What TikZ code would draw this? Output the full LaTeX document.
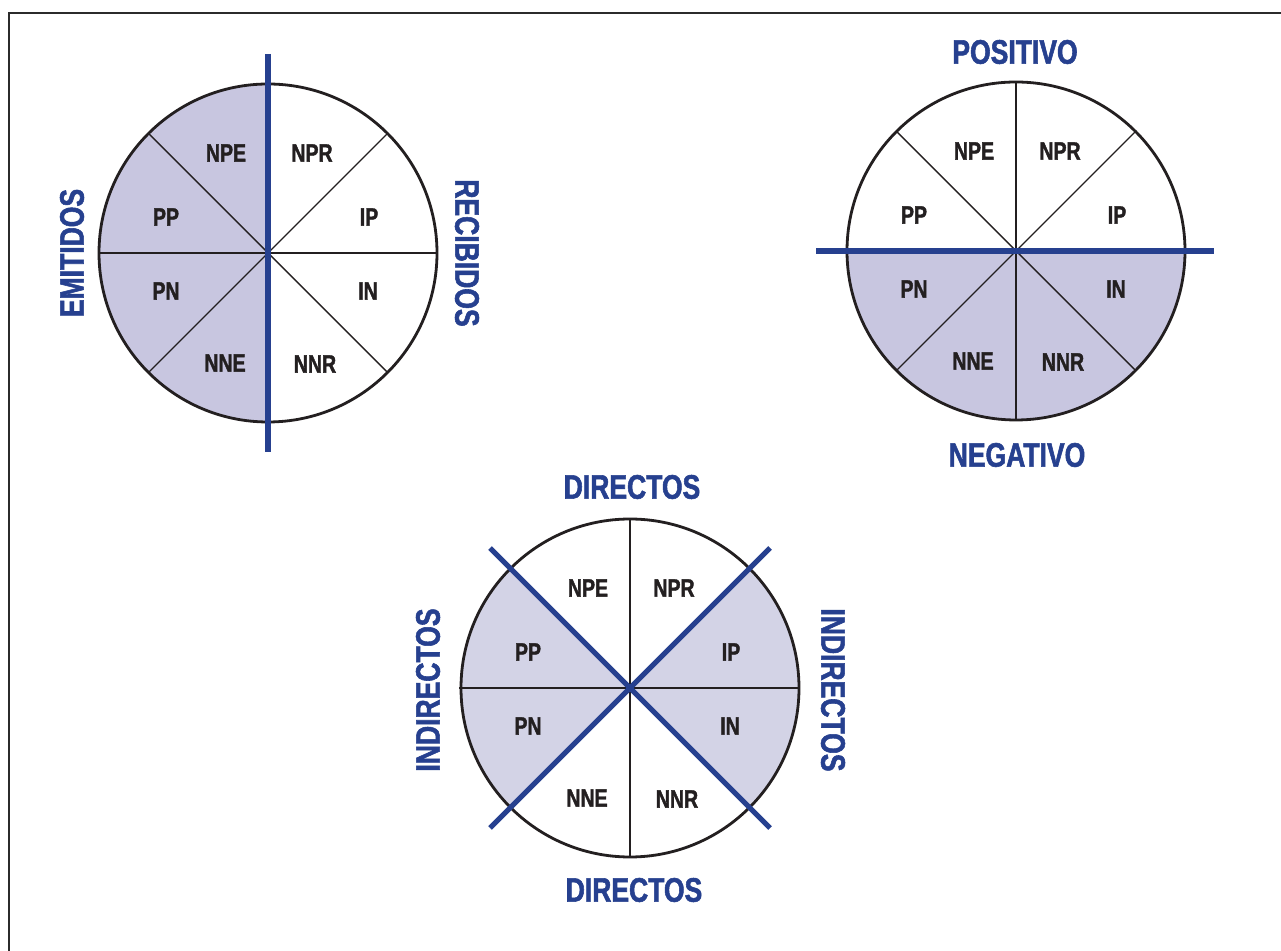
\documentclass[tikz,border=0pt]{standalone}
\usepackage{fontspec}
\newfontfamily\labfont[FakeStretch=0.78, BoldFeatures={FakeBold=1.6}]{Liberation Sans}
\definecolor{lavA}{HTML}{C8C6E0}
\definecolor{lavB}{HTML}{D3D3E6}
\definecolor{axblue}{HTML}{26408F}
\definecolor{framegray}{HTML}{2B2B2B}
\definecolor{inkblack}{HTML}{231F20}
\tikzset{
  seclabel/.style={font=\labfont\bfseries\fontsize{25}{25}\selectfont, text=inkblack, inner sep=0pt},
  axlabel/.style={font=\labfont\bfseries\fontsize{34}{34}\selectfont, text=axblue, inner sep=0pt},
  spoke/.style={draw=inkblack, line width=1.4pt},
  rim/.style={draw=inkblack, line width=2.8pt},
  axisline/.style={draw=axblue, line width=6pt},
}
\newcommand{\seclabels}[1]{%
  \node[seclabel] (#1npe) at ($(#1)+(-42,100)$) {NPE};
  \node[seclabel] (#1npr) at ($(#1)+(44,100)$) {NPR};
  \node[seclabel] (#1pp)  at ($(#1)+(-102,36)$) {PP};
  \node[seclabel] (#1ip)  at ($(#1)+(101,36)$) {IP};
  \node[seclabel] (#1pn)  at ($(#1)+(-102,-38)$) {PN};
  \node[seclabel] (#1in)  at ($(#1)+(100,-38)$) {IN};
  \node[seclabel] (#1nne) at ($(#1)+(-43,-110)$) {NNE};
  \node[seclabel] (#1nnr) at ($(#1)+(47,-111)$) {NNR};
}
\usetikzlibrary{calc}
\begin{document}
\begin{tikzpicture}[x=1pt,y=1pt]
\useasboundingbox (0,0) rectangle (1281,950);
\fill[white] (0,0) rectangle (1281,950);
% frame
\draw[framegray, line width=2.6pt] (1285,937) -- (9,937) -- (9,-5);

% ---------- circle 1 : emitidos / recibidos ----------
\coordinate (ca) at (268,697);
\fill[lavA] (ca) -- ++(90:169) arc[start angle=90,end angle=270,radius=169] -- cycle;
\foreach \a in {0,45,135,180,225,315}
  \draw[spoke] (ca) -- ++(\a:169);
\draw[rim] (ca) circle[radius=169];
\coordinate (catop) at (268,896);
\coordinate (cabot) at (268,498);
\draw[axisline] (catop) -- (cabot);
\seclabels{ca}
\node[axlabel, rotate=90] (emit) at (72,697) {EMITIDOS};
\node[axlabel, rotate=-90] (reci) at (467,697) {RECIBIDOS};

% ---------- circle 2 : positivo / negativo ----------
\coordinate (cb) at (1016,699);
\fill[lavA] (cb) -- ++(180:169) arc[start angle=180,end angle=360,radius=169] -- cycle;
\foreach \a in {45,90,135,225,270,315}
  \draw[spoke] (cb) -- ++(\a:169);
\draw[rim] (cb) circle[radius=169];
\coordinate (cbl) at (816,699);
\coordinate (cbr) at (1214,699);
\draw[axisline] (cbl) -- (cbr);
\seclabels{cb}
\node[axlabel] (posi) at (1015,898) {POSITIVO};
\node[axlabel] (nega) at (1017,495) {NEGATIVO};

% ---------- circle 3 : directos / indirectos ----------
\coordinate (cc) at (630,262);
\fill[lavB] (cc) -- ++(135:169) arc[start angle=135,end angle=225,radius=169] -- cycle;
\fill[lavB] (cc) -- ++(-45:169) arc[start angle=-45,end angle=45,radius=169] -- cycle;
\foreach \a in {0,90,180,270}
  \draw[spoke] (cc) -- ++(\a:169);
\draw[spoke] (cc) -- ++(-171,0);
\draw[rim] (cc) circle[radius=169];
\coordinate (ccul) at (490,402);
\coordinate (cclr) at (770,122);
\coordinate (ccur) at (770,402);
\coordinate (ccll) at (490,122);
\draw[axisline, line width=5pt] (ccul) -- (cclr);
\draw[axisline, line width=5pt] (ccur) -- (ccll);
\seclabels{cc}
\node[axlabel] (dirt) at (632,463) {DIRECTOS};
\node[axlabel] (dirb) at (634,60) {DIRECTOS};
\node[axlabel, rotate=90] (indl) at (428,260) {INDIRECTOS};
\node[axlabel, rotate=-90] (indr) at (833,260) {INDIRECTOS};
\end{tikzpicture}
\end{document}
